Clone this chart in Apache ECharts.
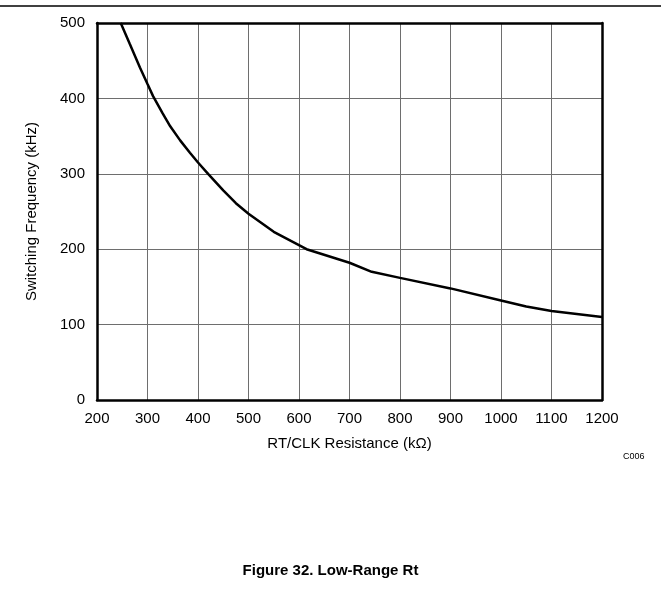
<!DOCTYPE html>
<html>
<head>
<meta charset="utf-8">
<script src="https://cdn.jsdelivr.net/npm/echarts@6/dist/echarts.min.js"></script>
<style>
html,body{margin:0;padding:0;background:#fff;}
#container{width:661px;height:609px;}
</style>
</head>
<body>
<div id="container"></div>
<script>
// RT/CLK resistance (kOhm) vs switching frequency (kHz)
var resistance = [247, 265, 285, 300, 311, 330, 345, 365, 384, 400, 420, 450, 475, 500, 550, 615, 700, 744, 800, 900, 1000, 1050, 1100, 1200];
var frequency  = [500, 472, 441, 419, 403, 380, 363, 344, 328, 315, 300, 278, 261, 247, 223, 200, 182, 170, 162, 148, 132, 124, 118, 110];
var xTicks = [200, 1200, 100];
var yTicks = [0, 500, 100];

var points = [];
for (var i = 0; i < resistance.length; i++) {
	points.push([resistance[i], frequency[i]]);
}

var myChart = echarts.init(document.getElementById('container'));
var font = 'Liberation Sans, Arial, sans-serif';
var frameAxis = {
	axisLine: {show: true, onZero: false, lineStyle: {color: '#000', width: 2.5}},
	axisTick: {show: false},
	axisLabel: {show: false},
	splitLine: {show: false}
};
var option = {
	backgroundColor: '#fff',
	animation: false,
	title: [{
		text: 'Figure 32. Low-Range Rt',
		left: 'center',
		top: 558,
		textStyle: {fontFamily: font, fontSize: 15, fontWeight: 'bold', color: '#000'}
	}, {
		text: 'C006',
		left: 618,
		top: 447,
		textStyle: {fontFamily: font, fontSize: 9, fontWeight: 'normal', color: '#000'}
	}],
	graphic: [{
		type: 'line',
		shape: {x1: 0, y1: 6, x2: 661, y2: 6},
		style: {stroke: '#000', lineWidth: 1.5}
	}],
	grid: {
		left: 97, top: 23, right: 59, bottom: 209
	},
	xAxis: [{
		type: 'value',
		min: xTicks[0], max: xTicks[1], interval: xTicks[2],
		name: 'RT/CLK Resistance (k\u03A9)',
		nameLocation: 'middle',
		nameGap: 36,
		nameTextStyle: {fontFamily: font, fontSize: 15, color: '#000'},
		axisLine: {onZero: false, lineStyle: {color: '#000', width: 2.5}},
		axisTick: {show: false},
		axisLabel: {fontFamily: font, fontSize: 15, color: '#000', margin: 11,
			formatter: function(v){ return String(v); }},
		splitLine: {lineStyle: {color: '#6e6e6e', width: 1}}
	}, Object.assign({type: 'value', position: 'top',
		min: xTicks[0], max: xTicks[1], interval: xTicks[2]}, frameAxis)],
	yAxis: [{
		type: 'value',
		min: yTicks[0], max: yTicks[1], interval: yTicks[2],
		name: 'Switching Frequency (kHz)',
		nameLocation: 'middle',
		nameGap: 58,
		nameTextStyle: {fontFamily: font, fontSize: 15, color: '#000'},
		axisLine: {onZero: false, lineStyle: {color: '#000', width: 2.5}},
		axisTick: {show: false},
		axisLabel: {fontFamily: font, fontSize: 15, color: '#000', margin: 12},
		splitLine: {lineStyle: {color: '#6e6e6e', width: 1}}
	}, Object.assign({type: 'value', position: 'right',
		min: yTicks[0], max: yTicks[1], interval: yTicks[2]}, frameAxis)],
	series: [{
		type: 'line',
		data: points,
		showSymbol: false,
		smooth: false,
		clip: true,
		lineStyle: {color: '#000', width: 2.5}
	}]
};
myChart.setOption(option);
</script>
</body>
</html>
